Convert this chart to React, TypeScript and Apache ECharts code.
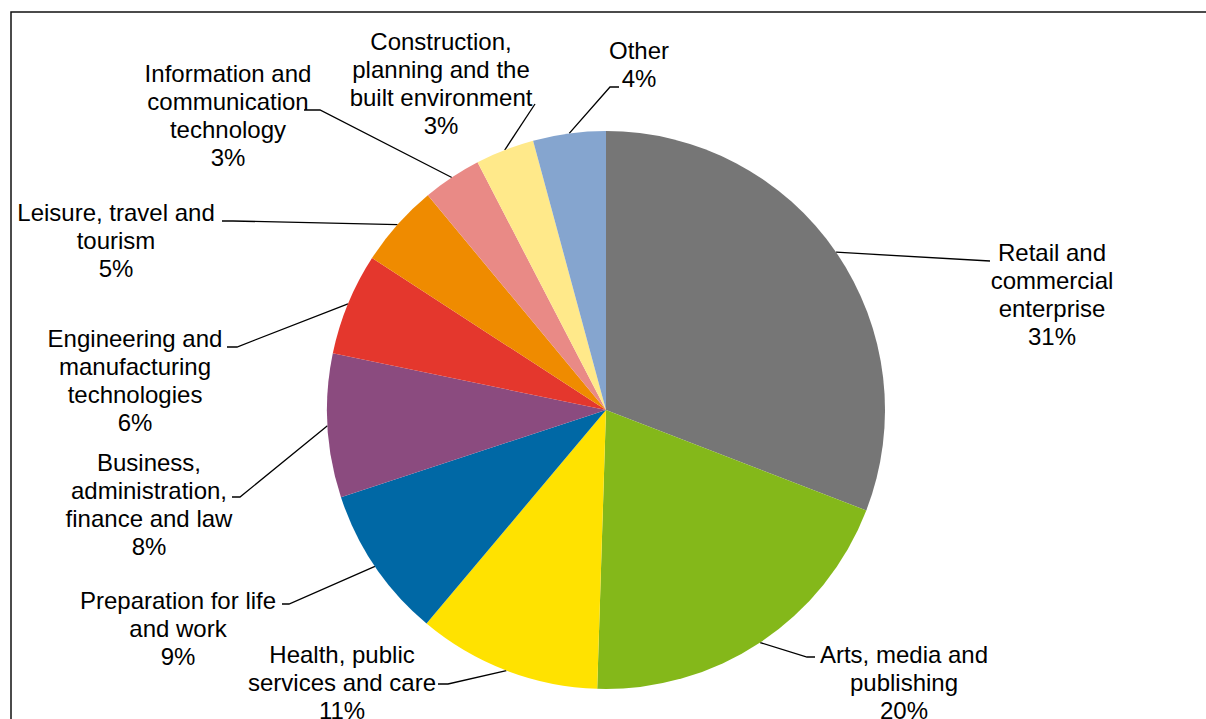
import React, { useEffect, useRef } from "react";
import * as echarts from "echarts";

const CATEGORIES = [
  "Retail and\ncommercial\nenterprise",
  "Arts, media and\npublishing",
  "Health, public\nservices and care",
  "Preparation for life\nand work",
  "Business,\nadministration,\nfinance and law",
  "Engineering and\nmanufacturing\ntechnologies",
  "Leisure, travel and\ntourism",
  "Information and\ncommunication\ntechnology",
  "Construction,\nplanning and the\nbuilt environment",
  "Other",
];
const VALUES = [30.8, 19.6, 10.6, 8.8, 8.3, 5.9, 4.8, 3.4, 3.4, 4.2];
const COLORS = [
  "#767676",
  "#84b81a",
  "#ffe200",
  "#0068a5",
  "#8b4b7f",
  "#e4372d",
  "#ef8b00",
  "#e98a86",
  "#ffe98a",
  "#85a5cf",
];

// layout (page pixels)
const CENTER = [606, 410];
const RADIUS = 279;
const LABEL_POS = [
  [1052, 294.5],
  [904, 682],
  [342, 682.5],
  [178, 628.5],
  [149, 504.5],
  [135, 380.5],
  [116, 240.5],
  [228, 115],
  [441, 83.5],
  [639, 64],
];
const LEADER_BENDS = [
  [[990, 261]],
  [[807, 657], [815, 657]],
  [[448, 684], [438, 684]],
  [[289, 604], [282, 604]],
  [[240, 497], [232, 497]],
  [[237, 347], [227, 347]],
  [[233, 221], [222, 221]],
  [[320, 110], [304, 110]],
  [[535, 104]],
  [[610, 87], [619, 87]],
];

export default function App() {
  const ref = useRef<HTMLDivElement>(null);
  useEffect(() => {
    const chart = echarts.init(ref.current as HTMLDivElement, null, { renderer: "svg" });
    const total = VALUES.reduce((a, b) => a + b, 0);
    const mids: number[] = [];
    let acc = 0;
    VALUES.forEach((v) => {
      mids.push(((acc + v / 2) / total) * 2 * Math.PI);
      acc += v;
    });
    chart.setOption({
      animation: false,
      backgroundColor: "#ffffff",
      graphic: [
        {
          type: "rect",
          shape: { x: 11, y: 12, width: 1400, height: 900 },
          style: { fill: "none", stroke: "#111111", lineWidth: 1.5 },
          z: 10,
          silent: true,
        },
      ],
      series: [
        {
          type: "pie",
          center: CENTER,
          radius: RADIUS,
          startAngle: 90,
          clockwise: true,
          avoidLabelOverlap: false,
          data: CATEGORIES.map((name, i) => ({
            name,
            value: VALUES[i],
            itemStyle: { color: COLORS[i] },
          })),
          label: {
            show: true,
            position: "outside",
            formatter: (p: any) => `${p.name}\n${Math.round(p.percent)}%`,
            fontFamily: "'Liberation Sans', Arial, sans-serif",
            fontSize: 24,
            lineHeight: 28,
            color: "#000000",
          },
          labelLine: {
            show: true,
            length: 10,
            length2: 10,
            smooth: false,
            lineStyle: { color: "#000000", width: 1.3 },
          },
          labelLayout: (p: any) => {
            const i = p.dataIndex;
            const a = mids[i];
            const sx = CENTER[0] + RADIUS * Math.sin(a);
            const sy = CENTER[1] - RADIUS * Math.cos(a);
            return {
              x: LABEL_POS[i][0],
              y: LABEL_POS[i][1],
              align: "center",
              verticalAlign: "middle",
              labelLinePoints: [[sx, sy], ...LEADER_BENDS[i]],
            };
          },
          emphasis: { disabled: true },
        },
      ],
    });
    return () => chart.dispose();
  }, []);
  return (
    <div
      ref={ref}
      style={{ position: "fixed", left: 0, top: 0, width: 1206, height: 719, background: "#fff" }}
    />
  );
}
